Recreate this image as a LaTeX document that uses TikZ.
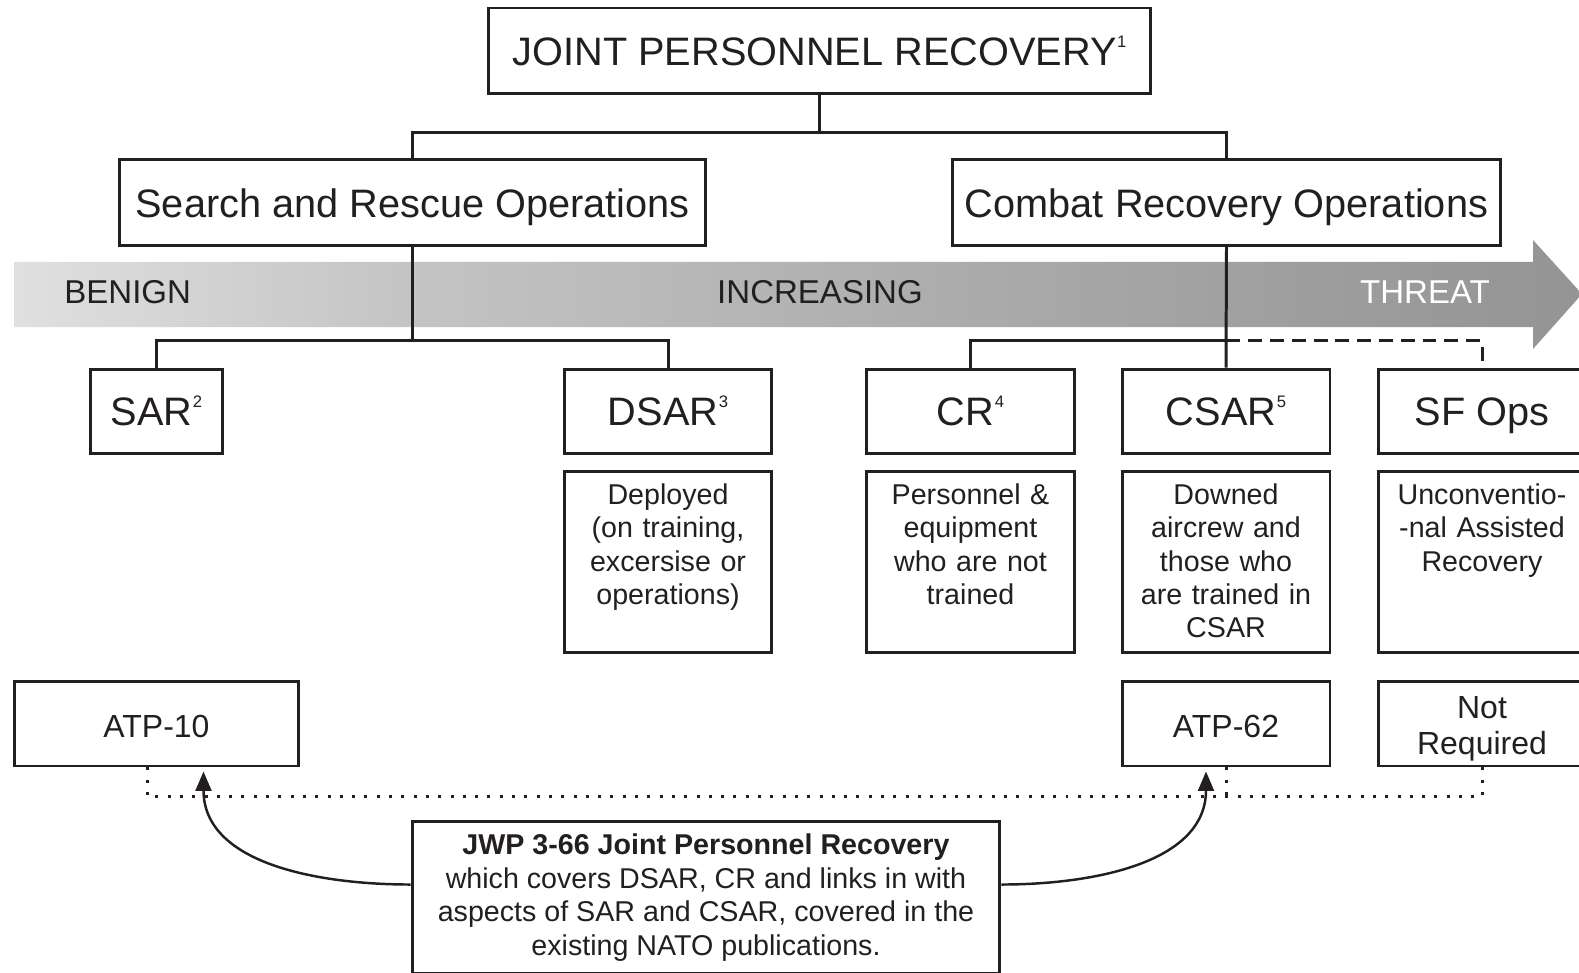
\documentclass[tikz,border=0pt]{standalone}
\usepackage{fontspec}
\setmainfont{Liberation Sans}
\usetikzlibrary{arrows.meta, calc}
\definecolor{ink}{RGB}{35,31,32}
\definecolor{bandA}{RGB}{224,224,224}
\definecolor{bandB}{RGB}{196,196,196}
\definecolor{bandC}{RGB}{165,165,165}
\definecolor{bandD}{RGB}{148,148,148}
\pgfdeclarehorizontalshading{threatshade}{100bp}{color(0bp)=(bandA); color(25bp)=(bandA); color(37.5bp)=(bandB); color(60bp)=(bandC); color(75bp)=(bandD); color(100bp)=(bandD)}
\newcommand{\fnote}[1]{\kern0.3pt\raisebox{10pt}{\fontsize{9.5}{9.5}\selectfont #1}}

\begin{document}
\begin{tikzpicture}[x=0.02cm, y=-0.02cm,
    box/.style={draw=ink, line width=1.7pt, inner sep=0pt, text=ink, align=center},
    big/.style={box, font=\fontsize{22.6}{27}\selectfont, minimum height=1.72cm, text height=16.8pt, text depth=0pt},
    row/.style={big, minimum width=4.16cm, minimum height=1.70cm, text height=15.5pt},
    desc/.style={box, minimum width=4.16cm, minimum height=3.64cm, text width=3.9cm,
      text height=19pt, text depth=84.2pt, font=\fontsize{16.3}{18.9}\selectfont},
    atp/.style={box, minimum width=4.16cm, minimum height=1.70cm, text height=15.9pt, text depth=0pt,
      font=\fontsize{18.2}{20.6}\selectfont},
    link/.style={draw=ink, line width=1.7pt},
    dotline/.style={draw=ink, line width=1.7pt, dash pattern=on 1.7pt off 5.3pt},
    bandtext/.style={inner sep=0pt, font=\fontsize{18.8}{22}\selectfont}]
  \useasboundingbox (0,0) rectangle (1579,973);
  \clip (0,0) rectangle (1579,973);
  \shade[shading=threatshade] (14,262) -- (1533,262) -- (1533,240) -- (1582,294) -- (1533,349) -- (1533,327) -- (14,327) -- cycle;
  \node[bandtext, anchor=west, text=ink] (benign) at (64,292) {BENIGN};
  \node[bandtext, text=ink] (incr) at (820,292) {INCREASING};
  \node[bandtext, text=white] (threat) at (1425,292) {THREAT};

  \node[big, minimum width=13.26cm, text height=16.4pt] (jpr) at (819.5,51) {JOINT PERSONNEL RECOVERY\fnote{1}};
  \node[big, minimum width=11.74cm] (sarops) at (412.5,202.5) {Search and Rescue Operations};
  \node[big, minimum width=10.98cm] (crops) at (1226.5,202.5) {Combat Recovery Operations};

  \node[row, minimum width=2.66cm] (sar) at (156.5,411.5) {SAR\fnote{2}};
  \node[row] (dsar) at (668,411.5) {DSAR\fnote{3}};
  \node[row, minimum width=4.18cm] (cr) at (970.5,411.5) {CR\fnote{4}};
  \node[row] (csar) at (1226,411.5) {CSAR\fnote{5}};
  \node[row] (sfops) at (1482,411.5) {SF Ops};

  \node[desc] (dsard) at (668,562) {Deployed\\(on training,\\excersise or\\operations)};
  \node[desc, minimum width=4.18cm] (crd) at (970.5,562) {Personnel \&\\equipment\\who are not\\trained};
  \node[desc] (csard) at (1226,562) {Downed\\aircrew and\\those who\\are trained in\\CSAR};
  \node[desc] (sfd) at (1482,562) {Unconventio-\\-nal Assisted\\Recovery};

  \node[atp, minimum width=5.7cm] (atp10) at (156.5,723.5) {ATP-10};
  \node[atp] (atp62) at (1226,723.5) {ATP-62};
  \node[atp, text width=3.9cm, text height=12pt, text depth=17.7pt] (notreq) at (1482,723.5) {Not\\Required};

  \node[box, minimum width=11.76cm, minimum height=3.06cm, font=\fontsize{16.3}{19.1}\selectfont] (jwp) at (706,897.5)
    {\textbf{JWP 3-66 Joint Personnel Recovery}\\which covers DSAR, CR and links in with\\aspects of SAR and CSAR, covered in the\\existing NATO publications.};

  \draw[link] (jpr.south) -- ++(0,37) -| (sarops.north);
  \draw[link] (jpr.south) -- ++(0,37) -| (crops.north);
  \draw[link] (sarops.south) -- ++(0,94) -| (sar.north);
  \draw[link] (sarops.south) -- ++(0,94) -| (dsar.north);
  \draw[link] (crops.south) -- (csar.north);
  \draw[link] (crops.south) ++(0,94) -| (cr.north);
  \draw[link, dash pattern=on 7.9pt off 4.5pt] (crops.south) ++(0,94) -| (sfops.north);

  \draw[dotline] ($(atp10.south)+(-9,0)$) -- ++(0,29) -| (notreq.south);
  \draw[dotline] (atp62.south) -- ++(0,29);

  \draw[link, line width=1.4pt, -{Triangle[length=11pt,width=9pt]}] ($(jwp.north west)+(0,65)$) to[out=180, in=-90] ($(atp10.south)+(47,4)$);
  \draw[link, line width=1.4pt, -{Triangle[length=11pt,width=9pt]}] ($(jwp.north east)+(0,65)$) to[out=0, in=-90] ($(atp62.south)+(-20,4)$);
\end{tikzpicture}
\end{document}
